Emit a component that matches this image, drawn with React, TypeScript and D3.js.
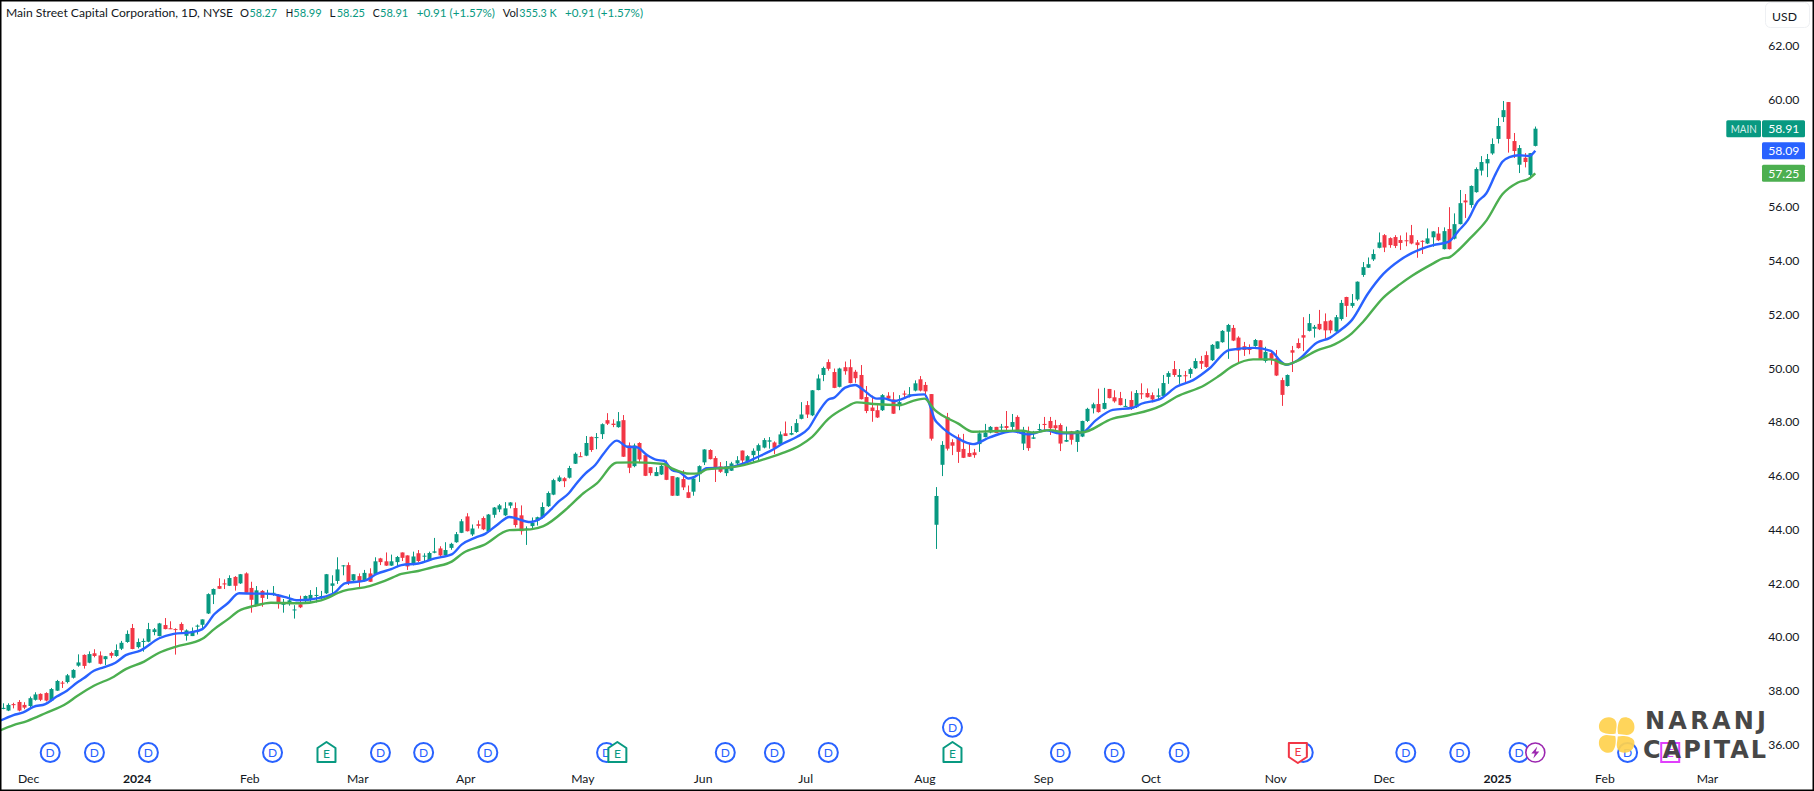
import React from "react";
import * as d3 from "d3";

const W = 1814;
const H = 791;
const UP = "#089981";
const DOWN = "#F23645";
const BLUE = "#2962FF";
const GREEN = "#4CAF50";
const INK = "#131722";
const FONT = "Lato, 'Noto Sans', sans-serif";

const opens = [
  37.33,37.27,37.51,37.59,37.48,37.44,37.67,37.89,37.92,37.64,
  38.01,38.31,38.33,38.49,38.94,39.34,39.05,39.40,39.32,39.18,
  39.41,39.30,39.57,39.82,40.34,39.63,39.82,39.83,40.19,40.04,
  40.45,40.33,40.30,40.49,40.05,40.04,40.39,40.46,40.88,41.58,
  41.90,42.00,41.91,42.24,42.00,42.37,41.83,41.17,41.72,41.60,
  41.62,41.53,41.22,41.23,41.01,41.22,41.34,41.39,41.54,41.49,
  41.63,41.91,42.09,42.65,42.68,42.11,42.27,42.10,42.37,42.35,
  42.93,42.82,42.66,42.79,43.15,43.04,42.69,43.12,43.00,42.86,
  43.14,43.30,43.04,43.32,43.53,43.88,44.49,43.82,44.20,44.43,
  43.93,44.55,44.75,44.53,44.89,44.80,44.53,44.02,44.13,44.33,
  44.45,44.87,45.30,45.80,45.91,45.93,46.45,46.73,46.75,47.45,
  47.41,47.55,48.07,47.94,47.81,48.07,47.13,46.36,47.22,46.77,
  46.32,45.99,46.05,46.42,45.99,45.26,45.88,45.39,45.41,46.06,
  46.50,46.96,46.66,46.35,46.10,46.19,46.46,46.94,46.53,46.77,
  46.93,47.05,47.27,47.24,47.17,47.58,47.53,47.63,48.12,48.63,
  48.25,49.19,49.75,50.23,49.86,49.31,50.04,50.04,49.87,49.75,
  48.93,48.54,48.44,48.44,48.98,48.84,48.59,49.06,48.99,49.17,
  49.59,49.38,49.04,44.18,46.41,48.18,47.25,47.43,47.00,46.85,
  46.87,47.18,47.44,47.61,47.82,47.80,47.85,47.82,48.19,47.20,
  47.65,47.38,47.72,47.93,48.04,47.88,47.89,47.27,47.65,47.26,
  47.46,48.04,48.51,48.67,48.49,49.23,48.92,48.89,48.57,48.82,
  48.55,49.07,49.08,49.00,48.94,48.97,49.68,49.97,49.68,49.74,
  49.79,50.00,50.27,50.49,50.30,50.73,50.97,51.36,51.50,51.14,
  50.82,50.78,50.83,51.04,50.27,50.56,50.37,49.56,49.34,50.67,
  50.94,51.23,51.39,51.47,51.65,51.75,51.77,51.37,51.83,52.65,
  52.32,52.56,53.47,53.74,54.05,54.48,54.95,54.84,54.88,54.77,
  54.76,54.95,54.68,54.74,54.64,54.87,55.01,54.43,55.18,54.82,
  55.36,56.24,56.07,56.55,57.35,57.62,57.99,58.53,59.34,59.90,
  58.45,57.57,57.83,57.19,58.27,
];

const closes = [
  37.37,37.48,37.47,37.27,37.38,37.73,37.87,37.67,37.64,38.07,
  38.37,38.27,38.58,38.78,39.06,38.93,39.37,39.30,39.01,39.29,
  39.31,39.52,39.79,40.12,39.56,39.82,39.86,40.30,40.29,40.51,
  40.30,40.30,40.28,40.26,40.25,40.21,40.43,40.66,41.60,41.79,
  41.80,41.96,42.20,41.91,42.34,41.65,41.39,41.74,41.46,41.62,
  41.65,41.24,41.24,41.37,41.03,41.11,41.53,41.57,41.57,41.53,
  42.34,42.00,42.52,42.67,42.04,42.34,42.05,42.39,42.06,42.82,
  42.79,42.66,42.82,42.98,42.95,42.63,43.00,42.83,43.03,43.13,
  43.19,43.04,43.24,43.47,43.83,44.31,43.94,44.04,44.14,44.01,
  44.56,44.82,44.90,44.79,45.01,44.17,43.94,44.04,44.25,44.46,
  44.84,45.36,45.84,45.94,45.80,46.29,46.82,46.71,47.22,46.96,
  47.44,47.92,47.94,47.89,48.03,46.71,46.30,47.13,46.61,46.00,
  46.10,46.14,46.37,45.85,45.26,45.94,45.57,45.18,45.90,46.36,
  46.98,46.62,46.31,46.15,46.35,46.46,46.58,46.57,46.73,46.93,
  47.14,47.33,47.32,47.04,47.54,47.48,47.59,47.96,48.28,48.28,
  49.18,49.62,50.01,49.98,49.27,49.99,49.89,49.45,49.63,48.85,
  48.41,48.41,48.17,49.00,48.87,48.31,48.74,49.02,49.03,49.44,
  49.17,49.14,47.38,45.25,47.15,47.01,47.12,46.89,46.67,46.71,
  46.77,47.58,47.61,47.82,47.59,47.83,47.78,48.00,47.64,47.67,
  47.03,47.43,47.74,47.89,47.77,47.77,47.20,47.33,47.34,47.69,
  48.04,48.49,48.66,48.37,48.71,48.89,48.77,48.63,48.60,48.49,
  49.08,49.03,48.92,48.84,48.99,49.45,49.82,49.75,49.75,49.71,
  49.97,50.27,50.17,50.05,50.87,51.00,51.39,51.61,51.03,50.66,
  50.68,50.68,51.05,50.35,50.61,50.35,49.73,49.01,49.75,50.58,
  50.75,51.14,51.68,51.54,51.45,51.41,51.41,51.90,52.43,52.32,
  52.43,53.22,53.76,53.87,54.25,54.68,54.49,54.58,54.55,54.66,
  54.73,54.64,54.58,54.71,54.83,55.09,54.76,55.10,54.43,55.36,
  56.14,56.17,56.78,57.41,57.67,57.78,58.34,59.01,59.60,58.53,
  58.08,58.19,57.67,58.00,58.91,
];

const highs = [
  37.54,37.54,37.56,37.66,37.58,37.79,37.95,37.91,37.95,38.11,
  38.41,38.37,38.63,38.81,39.36,39.36,39.47,39.55,39.47,39.30,
  39.46,39.73,39.86,40.25,40.49,39.95,39.95,40.53,40.34,40.53,
  40.71,40.59,40.33,40.55,40.29,40.36,40.47,40.66,41.63,41.81,
  42.19,42.15,42.30,42.27,42.35,42.41,42.06,41.90,41.75,41.76,
  41.90,41.60,41.42,41.59,41.19,41.54,41.55,41.75,41.86,41.72,
  42.35,42.30,42.97,42.68,42.78,42.34,42.37,42.50,42.56,42.97,
  42.95,43.15,43.07,43.02,43.15,43.04,43.18,43.24,43.12,43.18,
  43.69,43.38,43.53,43.51,43.91,44.39,44.61,44.19,44.34,44.49,
  44.58,44.84,44.95,45.02,45.02,45.01,44.90,44.12,44.45,44.48,
  45.01,45.42,45.89,46.01,45.95,46.37,46.87,46.88,47.48,47.46,
  47.59,47.95,48.33,48.10,48.37,48.26,47.24,47.20,47.25,46.83,
  46.32,46.32,46.46,46.57,45.99,45.95,46.21,45.64,45.96,46.39,
  46.99,46.99,46.73,46.51,46.55,46.52,46.73,46.94,46.77,47.02,
  47.20,47.40,47.44,47.28,47.65,48.02,47.85,48.11,48.74,48.78,
  49.19,49.77,50.06,50.33,49.99,50.02,50.25,50.33,49.94,50.12,
  49.34,48.98,48.63,49.04,49.11,49.11,49.00,49.17,49.30,49.55,
  49.71,49.49,49.04,45.58,47.29,48.34,47.36,47.54,47.56,47.21,
  47.00,47.68,47.93,47.85,47.82,47.93,48.41,48.30,48.25,47.82,
  47.83,47.67,47.93,48.19,48.19,48.08,47.95,47.83,47.67,47.70,
  48.05,48.53,48.72,49.24,49.27,49.23,49.18,49.12,48.86,49.14,
  49.19,49.44,49.25,49.10,49.25,49.75,49.89,50.27,49.97,49.90,
  50.02,50.37,50.46,50.63,50.90,51.00,51.42,51.65,51.61,51.19,
  50.98,50.89,51.09,51.05,50.80,50.62,50.68,49.65,49.77,50.83,
  51.11,51.90,52.02,51.61,52.17,52.04,51.80,51.98,52.54,52.66,
  52.76,53.23,53.95,54.12,54.42,55.05,54.99,54.87,54.95,54.94,
  55.05,55.33,54.77,54.76,55.20,55.10,55.25,55.24,55.99,55.76,
  56.63,56.48,56.80,57.47,57.89,57.97,58.55,59.31,59.94,59.90,
  58.75,58.30,58.00,58.00,58.99,
];

const lows = [
  37.32,37.25,37.35,37.24,37.32,37.39,37.64,37.62,37.61,37.61,
  38.00,38.11,38.28,38.46,38.90,38.83,39.03,39.25,38.99,38.96,
  39.22,39.27,39.52,39.79,39.55,39.58,39.46,39.81,40.07,40.03,
  40.29,40.30,39.35,40.19,39.87,40.04,40.10,40.34,40.86,41.23,
  41.79,41.79,41.90,41.73,41.98,41.62,40.91,41.16,41.13,41.42,
  41.54,41.06,40.91,41.17,40.69,41.08,41.28,41.31,41.29,41.37,
  41.60,41.63,41.98,42.30,41.94,42.09,41.83,42.07,42.05,42.34,
  42.68,42.65,42.65,42.60,42.83,42.50,42.67,42.79,42.81,42.83,
  43.12,42.98,43.02,43.25,43.51,43.87,43.93,43.76,44.04,43.98,
  43.90,44.44,44.65,44.50,44.79,44.08,43.81,43.43,44.03,44.15,
  44.41,44.84,45.28,45.77,45.58,45.90,46.44,46.71,46.73,46.89,
  46.99,47.37,47.89,47.81,47.79,46.70,46.10,46.32,46.47,45.99,
  46.01,45.99,46.03,45.84,45.25,45.25,45.47,45.17,45.26,45.77,
  46.40,46.61,45.77,46.11,45.99,46.18,46.36,46.47,46.49,46.49,
  46.57,47.02,47.01,46.81,47.13,47.48,47.51,47.60,48.10,48.15,
  48.22,49.18,49.52,49.91,49.26,49.29,49.76,49.44,49.46,48.84,
  48.33,48.01,48.15,48.41,48.82,48.30,48.44,48.86,48.92,49.14,
  49.14,48.92,47.31,43.28,45.99,46.94,46.77,46.48,46.66,46.70,
  46.67,46.89,47.43,47.58,47.59,47.68,47.68,47.65,47.58,46.96,
  46.93,47.37,47.60,47.69,47.52,47.64,46.92,47.26,47.16,46.89,
  47.44,48.00,48.32,48.35,48.47,48.88,48.72,48.62,48.56,48.45,
  48.52,48.86,48.91,48.73,48.82,48.94,49.42,49.68,49.42,49.44,
  49.64,49.97,49.97,50.02,50.27,50.72,50.95,50.35,51.01,50.23,
  50.46,50.52,50.80,50.33,50.21,50.13,49.71,48.60,49.32,49.86,
  50.73,50.64,51.37,51.14,51.42,51.09,51.30,51.36,51.77,51.91,
  52.25,52.51,53.40,53.73,53.99,54.46,54.32,54.48,54.47,54.40,
  54.54,54.61,54.11,54.25,54.62,54.52,54.73,54.42,54.42,54.79,
  55.35,55.59,55.97,56.53,57.17,57.11,57.94,58.36,59.16,58.02,
  57.82,57.26,57.47,57.04,58.25,
];

// Blue moving average, read at the bars where the line visibly bends.
const blueBars = [
  -0.5,2,3.8,5.7,7.9,10,11.9,13.8,15,16.9,18.7,20.9,22.8,25.5,29,31.7,34.8,37,39.2,41.7,
  43.8,46.6,49.1,52.2,54.7,59,61.5,63.4,67.1,69.3,72,73.9,77,80.1,83.2,85.1,87.6,89.4,91.6,93.9,
  97.8,99.6,101.5,103,104.9,106.1,108,109.8,111.3,113.8,115.7,117.5,119.4,121.2,122.5,124,125.6,127.1,128.3,130.5,
  134.2,137.3,139.8,142.2,144.7,147.2,149.3,151.2,153,154,156.1,158,159.5,162,163.2,165.1,168.7,170.8,171.8,172.7,
  173.6,177,179.8,182.9,187.2,190,193.4,195.8,199.9,202.6,205.7,209.4,211,214.7,217.5,220.6,223.6,227.3,231.9,235,
  236.9,237.8,240,243.5,246,247.5,250,253,255.8,258.9,261.1,265.1,267.9,269.9,271.5,273.3,274.9,276.7,277.9,279.2,
  281,282.9,284,
];
const blueValues = [
  36.89,37.10,37.20,37.41,37.51,37.79,38.01,38.31,38.47,38.75,38.88,39.05,39.33,39.50,39.96,40.12,40.18,40.30,40.85,41.26,
  41.63,41.62,41.62,41.50,41.37,41.47,41.65,42.00,42.10,42.35,42.53,42.68,42.74,42.93,43.08,43.45,43.70,43.84,44.17,44.47,
  44.28,44.40,44.73,45.04,45.35,45.66,46.09,46.40,46.81,47.31,47.08,47.06,46.77,46.59,46.56,46.22,46.12,45.90,45.97,46.28,
  46.30,46.46,46.69,46.92,47.21,47.45,47.76,48.38,48.84,48.90,49.28,49.38,49.19,48.87,48.88,48.78,49.00,49.03,48.63,48.10,
  47.89,47.39,47.18,47.43,47.66,47.54,47.69,47.58,47.60,48.07,48.45,48.53,48.68,48.88,49.31,49.56,49.99,50.68,50.76,50.65,
  50.24,50.13,50.30,50.95,51.14,51.36,51.79,52.78,53.50,54.02,54.28,54.58,54.70,55.14,55.51,56.19,56.50,57.25,57.68,57.85,
  57.92,57.90,58.09,
];

// Green moving average, read the same way.
const greenBars = [
  -0.5,2,4.5,7.9,11.9,13.8,16.9,20.6,22.8,26.2,29,32,37,39.2,41.7,43.8,46.6,49.7,55.3,59,
  63,68,70.8,73.9,77,80.1,83.2,85.4,89.1,93.9,97.8,100.2,104.6,107.6,110.1,113.8,117.5,122.5,124,127.4,
  129,130.5,134.2,137.3,141.6,144.7,147.8,150,153,156.1,158.3,161.4,166.3,168.7,170.8,172.7,177,179.8,183.5,189,
  190.9,194,197.1,199.9,205.7,208.8,214.7,217.5,222.7,225.2,228,231.7,235,237.8,240,243.4,246.8,250,252.1,255.8,
  258.9,261.1,265.1,266.9,268,269.4,271.9,275,277.9,280.7,282.9,284,
];
const greenValues = [
  36.53,36.73,36.88,37.17,37.54,37.81,38.19,38.53,38.81,39.09,39.42,39.64,39.94,40.30,40.66,40.98,41.16,41.28,41.26,41.37,
  41.71,41.90,42.09,42.35,42.46,42.62,42.81,43.14,43.42,43.98,44.01,44.13,44.79,45.35,45.72,46.49,46.50,46.44,46.28,46.08,
  46.09,46.24,46.30,46.40,46.65,46.86,47.14,47.45,48.12,48.53,48.73,48.67,48.63,48.79,48.87,48.45,47.95,47.64,47.66,47.68,
  47.61,47.70,47.61,47.61,48.13,48.26,48.61,48.94,49.37,49.69,50.09,50.33,50.33,50.14,50.28,50.65,50.89,51.30,51.73,52.62,
  53.12,53.43,53.90,54.09,54.12,54.33,54.83,55.51,56.47,56.90,57.06,57.25,
];

const priceTicks = [62, 60, 58, 56, 54, 52, 50, 48, 46, 44, 42, 40, 38, 36];
const timeLabels = ["Dec","2024","Feb","Mar","Apr","May","Jun","Jul","Aug","Sep","Oct","Nov","Dec","2025","Feb","Mar"];
const timeBars = [4.8,24.9,45.8,65.8,85.8,107.5,129.8,148.8,170.9,192.9,212.8,235.9,256,277,296.9,315.9];

const dividendBars = [8.8,17,27,50,70,78,89.9,111.9,133.9,143,153,196,206,218,241,260,270,281,301.1];
const raisedDividendBars = [176];
const earningsUpBars = [60,113.9,176];
const earningsDownBars = [240];
const earningsFutureBars = [309];
const splitBars = [284];

const last = { symbol: "MAIN", close: 58.91, blue: 58.09, green: 57.25 };

const x = d3.scaleLinear().domain([0, 284]).range([2.7, 1535.3]);
const y = d3.scaleLinear().domain([36, 62]).range([744.7, 45.6]);

const MARK_Y = 752.5;
const MARK_Y2 = 727.3;
const TICK_STYLE: React.CSSProperties = { fontFamily: FONT, fontSize: 12.2, fill: INK };

function linePath(bars: number[], values: number[]) {
  const gen = d3.line<number>()
    .x((_, i) => x(bars[i]))
    .y((v) => y(v))
    .curve(d3.curveMonotoneX);
  return gen(values) as string;
}

function Dividend({ cx, cy }: { cx: number; cy: number }) {
  return (
    <g>
      <circle cx={cx} cy={cy} r={9.5} fill="#fff" stroke={BLUE} strokeWidth={2} />
      <text x={cx} y={cy + 4.3} textAnchor="middle" fontFamily={FONT} fontSize={12} fill={BLUE}>D</text>
    </g>
  );
}

function EarningsUp({ cx }: { cx: number }) {
  const d = `M${cx},${MARK_Y - 10.5} L${cx + 9},${MARK_Y - 4.5} V${MARK_Y + 9.5} H${cx - 9} V${MARK_Y - 4.5} Z`;
  return (
    <g>
      <path d={d} fill="#fff" stroke={UP} strokeWidth={2} strokeLinejoin="round" />
      <text x={cx} y={MARK_Y + 5.2} textAnchor="middle" fontFamily={FONT} fontSize={12} fill={UP}>E</text>
    </g>
  );
}

function EarningsDown({ cx }: { cx: number }) {
  const d = `M${cx - 9},${MARK_Y - 9.5} H${cx + 9} V${MARK_Y + 4.5} L${cx},${MARK_Y + 10.5} L${cx - 9},${MARK_Y + 4.5} Z`;
  return (
    <g>
      <path d={d} fill="#fff" stroke={DOWN} strokeWidth={2} strokeLinejoin="round" />
      <text x={cx} y={MARK_Y + 3.2} textAnchor="middle" fontFamily={FONT} fontSize={12} fill={DOWN}>E</text>
    </g>
  );
}

function EarningsFuture({ cx }: { cx: number }) {
  return (
    <g>
      <rect x={cx - 9} y={MARK_Y - 9.5} width={18} height={19} fill="#fff" stroke="#E040FB" strokeWidth={2} />
      <text x={cx} y={MARK_Y + 4.3} textAnchor="middle" fontFamily={FONT} fontSize={12} fill="#E040FB">E</text>
    </g>
  );
}

function Split({ cx }: { cx: number }) {
  const s = cx;
  const t = MARK_Y;
  const d = `M${s + 2},${t - 6} L${s - 4},${t + 1} H${s - 0.5} L${s - 2},${t + 6} L${s + 4},${t - 1} H${s + 0.5} Z`;
  return (
    <g>
      <circle cx={s} cy={t} r={9.5} fill="#fff" stroke="#9C27B0" strokeWidth={1.6} />
      <path d={d} fill="#9C27B0" />
    </g>
  );
}

function Tag({ value, fill, label }: { value: number; fill: string; label: string }) {
  const cy = y(value);
  return (
    <g>
      <rect x={1762} y={cy - 8.5} width={43} height={17} rx={1.5} fill={fill} />
      <text x={1799.3} y={cy + 4.3} textAnchor="end" fontFamily={FONT} fontSize={12.2} fill="#fff">{label}</text>
    </g>
  );
}

function Head({ x: px, w, fill, children }: { x: number; w: number; fill?: string; children: string }) {
  return (
    <text x={px} y={17} textLength={w} lengthAdjust="spacingAndGlyphs" fill={fill ?? INK}>{children}</text>
  );
}

const PETAL = "M-1,-1.5 C-1,-6 1,-10 -1,-14 C-3,-18 -8,-18.5 -12,-17 C-17,-15 -19,-9 -17,-5 C-15,-1.5 -6,0 -1,-1.5 Z";

export default function App() {
  return (
    <svg
      width={W}
      height={H}
      viewBox={`0 0 ${W} ${H}`}
      style={{ position: "absolute", top: 0, left: 0, display: "block", background: "#fff" }}
    >
      <rect x={0} y={0} width={W} height={H} fill="#fff" />

      {/* Candles */}
      <g>
        {opens.map((o, i) => {
          const c = closes[i];
          const color = c >= o ? UP : DOWN;
          const cx = Math.round(x(i)) + 0.5;
          const top = y(Math.max(o, c));
          const bottom = y(Math.min(o, c));
          return (
            <g key={i}>
              <line x1={cx} x2={cx} y1={y(highs[i])} y2={y(lows[i])} stroke={color} strokeWidth={1} />
              <rect x={cx - 2} y={top} width={4} height={Math.max(bottom - top, 1)} fill={color} />
            </g>
          );
        })}
      </g>

      {/* Moving averages */}
      <path d={linePath(blueBars, blueValues)} fill="none" stroke={BLUE} strokeWidth={2.4} strokeLinejoin="round" />
      <path d={linePath(greenBars, greenValues)} fill="none" stroke={GREEN} strokeWidth={2.4} strokeLinejoin="round" />

      {/* Event markers */}
      {dividendBars.map((b) => <Dividend key={b} cx={x(b)} cy={MARK_Y} />)}
      {raisedDividendBars.map((b) => <Dividend key={b} cx={x(b)} cy={MARK_Y2} />)}
      {earningsUpBars.map((b) => <EarningsUp key={b} cx={x(b)} />)}
      {earningsDownBars.map((b) => <EarningsDown key={b} cx={x(b)} />)}
      {earningsFutureBars.map((b) => <EarningsFuture key={b} cx={x(b)} />)}
      {splitBars.map((b) => <Split key={b} cx={x(b)} />)}

      {/* Price axis */}
      {priceTicks.map((t) => (
        <text key={t} x={1799.3} y={y(t) + 4.3} textAnchor="end" style={TICK_STYLE}>{d3.format(".2f")(t)}</text>
      ))}

      {/* Time axis */}
      {timeLabels.map((t, i) => (
        <text
          key={i}
          x={x(timeBars[i])}
          y={783}
          textAnchor="middle"
          style={{ ...TICK_STYLE, fontWeight: /^\d/.test(t) ? 700 : 400 }}
        >
          {t}
        </text>
      ))}

      {/* Header */}
      <g fontFamily={FONT} fontSize={12.2}>
        <Head x={6} w={227}>Main Street Capital Corporation, 1D, NYSE</Head>
        <Head x={240} w={9}>O</Head>
        <Head x={249.5} w={27.5} fill={UP}>58.27</Head>
        <Head x={285.7} w={7.5}>H</Head>
        <Head x={293.3} w={28.4} fill={UP}>58.99</Head>
        <Head x={329.5} w={6}>L</Head>
        <Head x={336.7} w={28.3} fill={UP}>58.25</Head>
        <Head x={372.7} w={7}>C</Head>
        <Head x={380} w={28.3} fill={UP}>58.91</Head>
        <Head x={416.7} w={78.3} fill={UP}>+0.91 (+1.57%)</Head>
        <Head x={502.7} w={15.8}>Vol</Head>
        <Head x={519.3} w={37.4} fill={UP}>355.3 K</Head>
        <Head x={565} w={78} fill={UP}>+0.91 (+1.57%)</Head>
      </g>

      {/* Currency button */}
      <rect x={1765.5} y={2.5} width={44} height={25} rx={5} fill="#fff" stroke="#EEF0F3" strokeWidth={1} />
      <text x={1784.5} y={20.5} textAnchor="middle" style={TICK_STYLE}>USD</text>

      {/* Last value tags */}
      <rect x={1726.3} y={y(last.close) - 8.5} width={34.7} height={17} rx={1.5} fill={UP} />
      <text x={1730.7} y={y(last.close) + 4.3} textLength={26} lengthAdjust="spacingAndGlyphs" fontFamily={FONT} fontSize={12.2} fill="#fff" fillOpacity={0.85}>{last.symbol}</text>
      <Tag value={last.close} fill={UP} label={d3.format(".2f")(last.close)} />
      <Tag value={last.blue} fill={BLUE} label={d3.format(".2f")(last.blue)} />
      <Tag value={last.green} fill={GREEN} label={d3.format(".2f")(last.green)} />

      {/* Watermark */}
      <g opacity={0.93}>
        <g transform="translate(1616.7,735)" fill="#FFD24F">
          {[0, 90, 180, 270].map((r) => (
            <path key={r} d={PETAL} transform={`rotate(${r})`} />
          ))}
        </g>
        <g fontFamily="'DejaVu Sans', Inter, sans-serif" fontWeight={700} fontSize={24} fill="#3A3A3A">
          <text x={1645} y={729.3} textLength={121} lengthAdjust="spacing">NARANJ</text>
          <text x={1643} y={757.5} textLength={123} lengthAdjust="spacing">CAPITAL</text>
        </g>
      </g>

      {/* Frame */}
      <rect x={0.75} y={0.75} width={W - 1.5} height={H - 1.5} fill="none" stroke="#000" strokeWidth={1.5} />
    </svg>
  );
}
